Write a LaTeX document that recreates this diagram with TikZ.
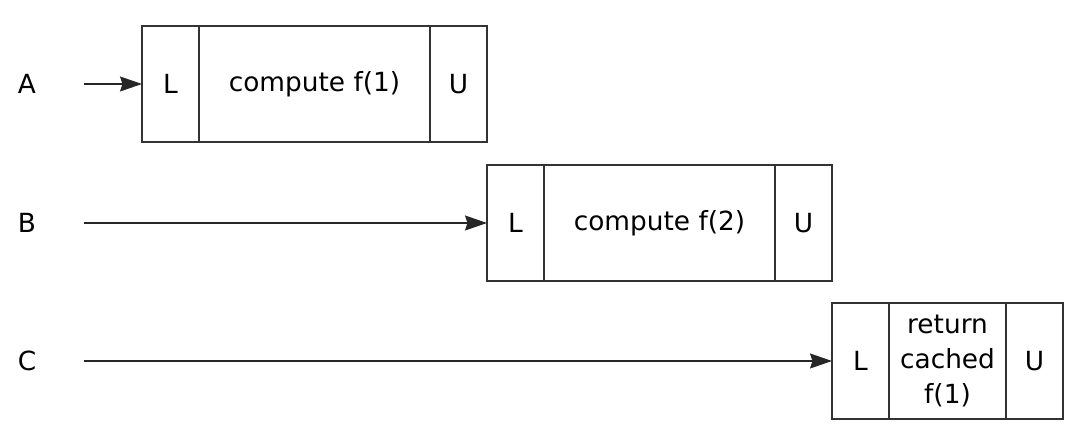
\documentclass[tikz,border=0pt]{standalone}
\usepackage{fontspec}
\setmainfont{DejaVu Sans}
\usetikzlibrary{arrows.meta, positioning}

\begin{document}
\begin{tikzpicture}[node distance=0pt, >={Stealth[length=4.4mm, width=3mm, inset=0.5mm]},
  cell/.style={rectangle, draw=black!80, line width=0.8pt, minimum height=2.32cm, minimum width=#1,
    inner sep=0pt, outer sep=0pt, align=center, font=\fontsize{15}{20}\selectfont},
  cell/.default=1.14cm,
  tname/.style={font=\fontsize{15}{20}\selectfont},
  line/.style={->, draw=black!85, line width=0.8pt}]
  \useasboundingbox (0,0) rectangle (21.6,-8.76);
  % thread A
  \node[tname] (a) at (0.54,-1.68) {A};
  \coordinate (aS) at (1.68,-1.68);
  \node[cell, anchor=west] (aL) at (2.84,-1.68) {L};
  \node[cell=4.62cm, right=of aL] (aC) {compute f(1)};
  \node[cell, right=of aC] (aU) {U};
  % thread B
  \node[tname] (b) at (0.54,-4.46) {B};
  \coordinate (bS) at (1.68,-4.46);
  \node[cell, anchor=west] (bL) at (aU.east |- bS) {L};
  \node[cell=4.62cm, right=of bL] (bC) {compute f(2)};
  \node[cell, right=of bC] (bU) {U};
  % thread C
  \node[tname] (c) at (0.54,-7.22) {C};
  \coordinate (cS) at (1.68,-7.22);
  \node[cell, anchor=west] (cL) at (bU.east |- cS) {L};
  \node[cell=2.34cm, right=of cL] (cC) {return\\cached\\f(1)};
  \node[cell, right=of cC] (cU) {U};
  \draw[line] (aS) -- (aL);
  \draw[line] (bS) -- (bL);
  \draw[line] (cS) -- (cL);
\end{tikzpicture}
\end{document}
